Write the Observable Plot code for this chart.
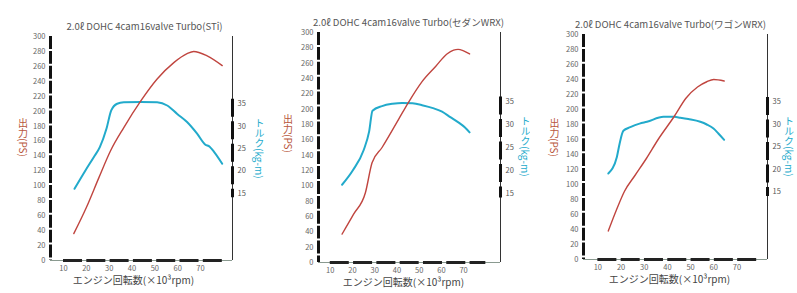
<!DOCTYPE html>
<html><head><meta charset="utf-8">
<script src="https://cdn.jsdelivr.net/npm/d3@7"></script>
<script src="https://cdn.jsdelivr.net/npm/@observablehq/plot@0.6"></script>
<style>
body{margin:0;background:#fff;}
#row{display:flex;width:797px;height:293px;overflow:hidden;}
.panel{position:relative;flex:none;height:293px;}
.panel svg{display:block;}
.vlab{position:absolute;writing-mode:vertical-rl;text-orientation:mixed;font-size:10px;line-height:10px;width:10px;white-space:nowrap;font-family:'Noto Sans CJK JP','Noto Sans',sans-serif;}
</style></head><body><div id="row"></div>
<script>
// ---- data ----
const titles = ["2.0ℓ DOHC 4cam16valve Turbo(STi)", "2.0ℓ DOHC 4cam16valve Turbo(セダンWRX)", "2.0ℓ DOHC 4cam16valve Turbo(ワゴンWRX)"];
const xLabel = "エンジン回転数(×10³rpm)";
const leftLabel = "出力(PS)";
const rightLabel = "トルク(kg-m)";
const psTicks = [0,20,40,60,80,100,120,140,160,180,200,220,240,260,280,300];
const tqTicks = [15,20,25,30,35];
const rpmTicks = [10,20,30,40,50,60,70];

const stiPsRpm = [14.5, 20, 25.5, 30.6, 36.4, 43.7, 51, 58.3, 64.1, 67, 72.9, 79.5];
const stiPs    = [36, 71, 111, 147, 178, 213, 243, 265, 277, 280, 274, 261];
const stiTqRpm = [14.8, 19.6, 23.3, 25.9, 28.8, 30.9, 33.5, 36.4, 44, 51, 55.4, 59.8, 64.1, 68.5, 72, 74, 76, 79.5];
const stiTq    = [16, 20.1, 23.1, 25.3, 29.4, 33.5, 35, 35.3, 35.4, 35.3, 34.6, 32.7, 30.9, 28.3, 25.9, 25.4, 24.2, 21.6];

const sedPsRpm = [15.3, 20.5, 25.8, 28.8, 33.3, 40.8, 45, 51.3, 57.5, 62.5, 65.5, 67.5, 70, 72.7];
const sedPs    = [37, 63, 91, 130, 150, 187, 208, 236, 256, 272, 277, 278, 276, 272];
const sedTqRpm = [15.3, 20.1, 25, 27.5, 29, 33.3, 38, 42.3, 47, 51.3, 56.6, 60.3, 64, 67.8, 70.5, 72.7];
const sedTq    = [16.9, 20, 24.4, 28.5, 33, 34, 34.5, 34.7, 34.6, 34.2, 33.5, 32.8, 31.6, 30.4, 29.4, 28.3];

const wagPsRpm = [14.5, 18, 21.5, 26, 31, 36, 43, 48, 53, 57, 60, 64.5];
const wagPs    = [38, 66, 91, 112, 135, 160, 191, 215, 230, 237, 240, 238];
const wagTqRpm = [14.5, 18.2, 19.4, 21, 24, 28, 31.2, 38.3, 43, 45.6, 49, 54.2, 57, 59.9, 62, 64.5];
const wagTq    = [19.1, 22.8, 25.8, 28.6, 29.4, 30.2, 30.6, 31.7, 31.7, 31.5, 31.2, 30.6, 30, 29.1, 28, 26.6];

// ---- layout ----
const panels = [
  {title: titles[0], ps: [stiPsRpm, stiPs], tq: [stiTqRpm, stiTq], width: 265, ml: 50, mr: 33, mt: 36, mb: 33, xDomain: [4.3, 84], tdx: 3, xdx: -8, lx: 22.5, ly: 118, rx: 259, ry: 118},
  {title: titles[1], ps: [sedPsRpm, sedPs], tq: [sedTqRpm, sedTq], width: 265, ml: 53, mr: 30, mt: 32, mb: 31, xDomain: [4.7, 86.6], tdx: -1, xdx: -6, lx: 22.5, ly: 114, rx: 260, ry: 116},
  {title: titles[2], ps: [wagPsRpm, wagPs], tq: [wagTqRpm, wagTq], width: 267, ml: 53, mr: 30, mt: 34, mb: 34, xDomain: [3.8, 83.2], tdx: -5, xdx: -6, lx: 24, ly: 118, rx: 258.5, ry: 116}
];
const K = 6; // kg-m -> PS axis factor
const red = "#c0453f", blue = "#22aacb", redLabel = "#b8563c";
const font = "'Noto Sans CJK JP', 'Noto Sans', sans-serif";

const row = document.getElementById("row");
for (const p of panels) {
  const psData = p.ps[0].map((r, i) => ({rpm: r, v: p.ps[1][i]}));
  const tqData = p.tq[0].map((r, i) => ({rpm: r, v: p.tq[1][i]}));
  const [x0, x1] = p.xDomain;
  const svg = Plot.plot({
    width: p.width, height: 293,
    marginTop: p.mt, marginBottom: p.mb, marginLeft: p.ml, marginRight: p.mr,
    style: {fontFamily: font, background: "#fff", overflow: "visible"},
    x: {domain: p.xDomain},
    y: {domain: [0, 300]},
    marks: [
      Plot.axisY(psTicks, {anchor: "left", tickSize: 0, tickPadding: 5, fontSize: 7.5, fill: "#666", label: null}),
      Plot.axisY(tqTicks.map(t => t * K), {anchor: "right", tickSize: 0, tickPadding: 5, fontSize: 7.5, fill: "#555", label: null, tickFormat: d => d / K}),
      Plot.axisX(rpmTicks, {anchor: "bottom", tickSize: 0, tickPadding: 5, fontSize: 7.5, fill: "#666", label: null}),
      Plot.ruleY([0], {x1: x0, x2: x1, stroke: "#8a9a90", strokeWidth: 1}),
      Plot.ruleY([0], {x1: rpmTicks[0], x2: rpmTicks[rpmTicks.length - 1] + 10, stroke: "#222", strokeWidth: 3, strokeDasharray: "19,4.3"}),
      Plot.ruleX([x0], {y1: 300, y2: 0, stroke: "#111", strokeWidth: 3, strokeDasharray: "12.9,2"}),
      Plot.ruleX([x1], {y1: 300, y2: 0, stroke: "#333", strokeWidth: 1}),
      Plot.ruleX([x1], {y1: 36 * K, y2: 14 * K, stroke: "#111", strokeWidth: 3, strokeDasharray: "18,4.5"}),
      Plot.line(tqData, {x: "rpm", y: d => d.v * K, stroke: blue, strokeWidth: 2, curve: "monotone-x"}),
      Plot.line(psData, {x: "rpm", y: "v", stroke: red, strokeWidth: 1.4, curve: "monotone-x"}),
      Plot.text([p.title], {text: d => d, frameAnchor: "top", dy: -13, dx: p.tdx, fontSize: 9.6, fill: "#555"}),
      Plot.text([xLabel], {text: d => d, frameAnchor: "bottom", dy: 23, dx: p.xdx, fontSize: 10, fill: "#444"})
    ]
  });
  const div = document.createElement("div");
  div.className = "panel";
  div.style.width = p.width + "px";
  div.appendChild(svg);
  const l = document.createElement("div");
  l.className = "vlab"; l.textContent = leftLabel; l.style.color = redLabel;
  l.style.left = (p.lx - 5) + "px"; l.style.top = p.ly + "px";
  const r = document.createElement("div");
  r.className = "vlab"; r.textContent = rightLabel; r.style.color = blue;
  r.style.left = (p.rx - 5) + "px"; r.style.top = p.ry + "px";
  div.appendChild(l); div.appendChild(r);
  row.appendChild(div);
}
</script>
</body></html>
